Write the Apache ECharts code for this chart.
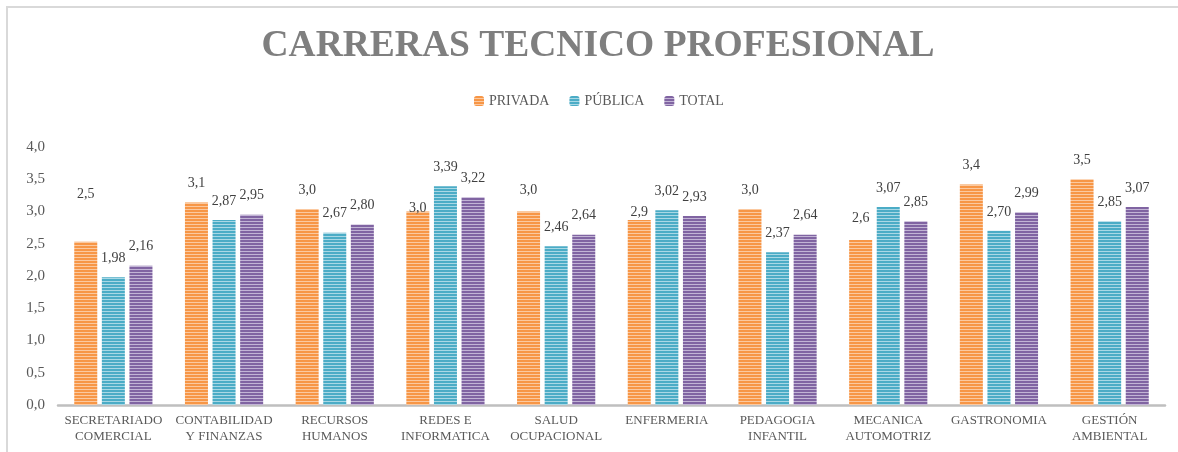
<!DOCTYPE html>
<html><head><meta charset="utf-8">
<script src="https://cdn.jsdelivr.net/npm/echarts@6/dist/echarts.min.js"></script>
<style>html,body{margin:0;padding:0;background:#fff}#c{width:1178px;height:452px}</style>
</head><body><div id="c"></div>
<script>
const categories = ['SECRETARIADO\nCOMERCIAL','CONTABILIDAD\nY FINANZAS','RECURSOS\nHUMANOS','REDES E\nINFORMATICA','SALUD\nOCUPACIONAL','ENFERMERIA','PEDAGOGIA\nINFANTIL','MECANICA\nAUTOMOTRIZ','GASTRONOMIA','GESTIÓN\nAMBIENTAL'];
const privada = [2.53, 3.14, 3.04, 3.00, 3.00, 2.87, 3.04, 2.56, 3.42, 3.50];
const publica = [1.98, 2.87, 2.67, 3.39, 2.46, 3.02, 2.37, 3.07, 2.70, 2.85];
const total = [2.16, 2.95, 2.80, 3.22, 2.64, 2.93, 2.64, 2.85, 2.99, 3.07];
const seriesNames = ['PRIVADA','PÚBLICA','TOTAL'];
const yTicks = {min: 0, max: 4, interval: 0.5};
// label placement (style only): distance of each PRIVADA label above its bar
const privLabelDistance = [40, 12, 12, -4, 14, 1, 12, 15, 12, 12];

function stripes(c1, c2){
  const cv = document.createElement('canvas');
  cv.width = 4; cv.height = 3;
  const g = cv.getContext('2d');
  g.fillStyle = c1; g.fillRect(0,0,4,3);
  g.fillStyle = c2; g.fillRect(0,2,4,1);
  return {image: cv, repeat: 'repeat'};
}
const FONT = 'Liberation Serif';
const comma = (v, d) => v.toFixed(d).replace('.', ',');
const chart = echarts.init(document.getElementById('c'));
const lbl = (d) => ({show: true, position: 'top', distance: 12, fontFamily: FONT, fontSize: 14, color: '#404040',
  formatter: p => comma(p.value, d)});
chart.setOption({
  animation: false,
  backgroundColor: '#fff',
  graphic: [
    {type: 'rect', shape: {x: 7, y: 7, width: 1300, height: 600}, style: {fill: 'none', stroke: '#d9d9d9', lineWidth: 2}, silent: true},
    {type: 'text', x: 598, y: 46, scaleX: 1.25, scaleY: 1.25,
     style: {text: 'CARRERAS TECNICO PROFESIONAL', font: 'bold 30px "Liberation Serif"', fill: '#7f7f7f', align: 'center', verticalAlign: 'middle'}}
  ],
  legend: {top: 89, left: 469, itemWidth: 10, itemHeight: 10, itemGap: 20,
    textStyle: {fontFamily: FONT, fontSize: 14, color: '#595959'}, data: seriesNames},
  grid: {left: 58, right: 13, top: 147, bottom: 47, containLabel: false},
  xAxis: {type: 'category', data: categories,
    axisLine: {lineStyle: {color: '#bfbfbf', width: 2.5}}, axisTick: {show: false},
    axisLabel: {interval: 0, fontFamily: FONT, fontSize: 13, lineHeight: 16, color: '#595959', margin: 8}},
  yAxis: {type: 'value', min: yTicks.min, max: yTicks.max, interval: yTicks.interval,
    axisLine: {show: false}, axisTick: {show: false}, splitLine: {show: false},
    axisLabel: {fontFamily: FONT, fontSize: 15, color: '#595959', margin: 13, formatter: v => comma(v, 1)}},
  series: [
    {name: seriesNames[0], type: 'bar', barWidth: 23, barGap: '20%',
     data: privada.map((v, i) => ({value: v, label: {distance: privLabelDistance[i]}})),
     itemStyle: {color: stripes('#F79646', '#FBC9A0')}, label: lbl(1)},
    {name: seriesNames[1], type: 'bar', data: publica, barWidth: 23, barGap: '20%',
     itemStyle: {color: stripes('#4BACC6', '#A9D8E5')}, label: lbl(2)},
    {name: seriesNames[2], type: 'bar', data: total, barWidth: 23, barGap: '20%',
     itemStyle: {color: stripes('#8064A2', '#C2B4D5')}, label: lbl(2)}
  ]
});
</script></body></html>
